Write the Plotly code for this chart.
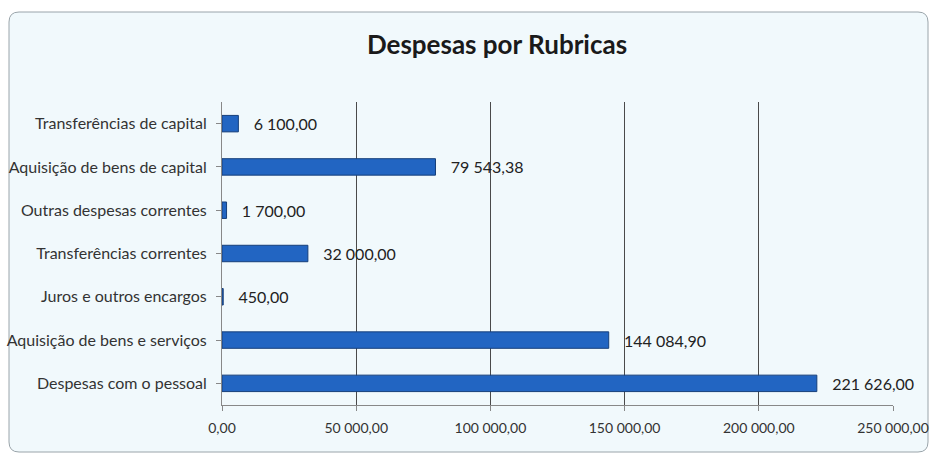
import plotly.graph_objects as go

categories = [
    "Despesas com o pessoal",
    "Aquisição de bens e serviços",
    "Juros e outros encargos",
    "Transferências correntes",
    "Outras despesas correntes",
    "Aquisição de bens de capital",
    "Transferências de capital",
]
values = [221626.00, 144084.90, 450.00, 32000.00, 1700.00, 79543.38, 6100.00]
value_labels = ["221 626,00", "144 084,90", "450,00", "32 000,00", "1 700,00", "79 543,38", "6 100,00"]
tick_values = [0, 50000, 100000, 150000, 200000, 250000]
tick_labels = ["0,00", "50 000,00", "100 000,00", "150 000,00", "200 000,00", "250 000,00"]

FONT = "Lato, Open Sans, sans-serif"
W, H = 935, 454
L, R, T, B = 222, 42, 102, 49
PW, PH = W - L - R, H - T - B


def px(x):
    return (x - L) / PW


def py(y):
    return (H - B - y) / PH


# rounded frame path in paper coordinates
x0, x1, y0, y1, r = 9, 928, 12, 452, 10
pts = [
    f"M {px(x0 + r)},{py(y0)}",
    f"L {px(x1 - r)},{py(y0)}",
    f"Q {px(x1)},{py(y0)} {px(x1)},{py(y0 + r)}",
    f"L {px(x1)},{py(y1 - r)}",
    f"Q {px(x1)},{py(y1)} {px(x1 - r)},{py(y1)}",
    f"L {px(x0 + r)},{py(y1)}",
    f"Q {px(x0)},{py(y1)} {px(x0)},{py(y1 - r)}",
    f"L {px(x0)},{py(y0 + r)}",
    f"Q {px(x0)},{py(y0)} {px(x0 + r)},{py(y0)} Z",
]
frame_path = " ".join(pts)

fig = go.Figure(go.Bar(
    y=categories,
    x=values,
    orientation="h",
    width=0.38,
    marker=dict(color="#2265c2", line=dict(color="#163f7a", width=1)),
    text=value_labels,
    texttemplate="   %{text}",
    textposition="outside",
    constraintext="none",
    cliponaxis=False,
    textfont=dict(family=FONT, size=16, color="#222222"),
))

fig.update_layout(
    width=W, height=H,
    margin=dict(l=L, r=R, t=T, b=B, autoexpand=False),
    paper_bgcolor="#ffffff",
    plot_bgcolor="#ffffff",
    showlegend=False,
    title=dict(text="<b>Despesas por Rubricas</b>", x=497 / W, xanchor="center", xref="container",
               y=1 - 45 / H, yref="container", yanchor="middle",
               font=dict(family=FONT, size=26, color="#1a1a1a")),
    xaxis=dict(range=[0, 250000], tickvals=tick_values, ticktext=tick_labels,
               showgrid=True, gridcolor="#4a4a4a", gridwidth=1,
               showline=True, linecolor="#888888", linewidth=1,
               ticks="outside", ticklen=5, tickcolor="#888888",
               ticklabelstandoff=5,
               tickfont=dict(family=FONT, size=14, color="#333333"),
               zeroline=False, automargin=False),
    yaxis=dict(showline=True, linecolor="#888888", linewidth=1,
               ticks="outside", ticklen=5, tickcolor="#888888",
               ticklabelstandoff=6,
               tickfont=dict(family=FONT, size=16, color="#333333"),
               showgrid=False, automargin=False),
    shapes=[dict(type="path", xref="paper", yref="paper", path=frame_path,
                 line=dict(color="#9aa4aa", width=1), fillcolor="#f1f9fc", layer="below")],
)

fig.write_html("out.html", config={"displayModeBar": False},
               post_script="document.body.style.margin='0';document.body.style.overflow='hidden';")
